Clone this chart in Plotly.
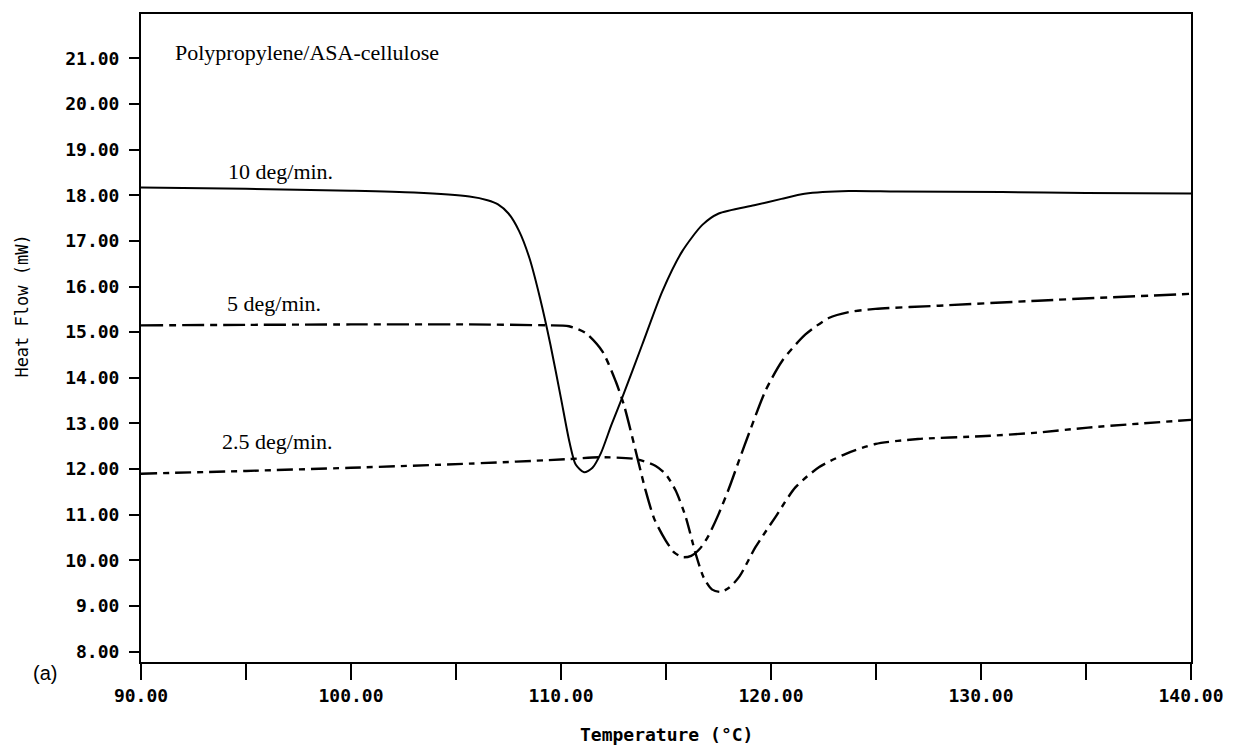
import plotly.graph_objects as go

# ---- data ----
t10 = [90, 95, 100, 103, 105.64, 106.5, 107.0, 107.5, 108.0, 108.5, 109.0, 109.5, 110.0,
       110.4, 110.7, 111.1, 111.5, 111.9, 112.4, 112.92, 113.87, 114.82, 115.77, 116.73,
       117.51, 119.2, 120.5, 121.6, 123.7, 126, 131, 135, 140]
hf10 = [18.17, 18.14, 18.10, 18.06, 17.97, 17.89, 17.8, 17.6, 17.22, 16.62, 15.75, 14.72, 13.55,
        12.6, 12.1, 11.93, 12.03, 12.35, 12.97, 13.57, 14.73, 15.89, 16.77, 17.35,
        17.60, 17.78, 17.92, 18.03, 18.09, 18.08, 18.07, 18.05, 18.04]

t5 = [90, 95, 100, 105.64, 109.28, 110.38, 111.18, 111.97, 112.6, 113.0, 113.4, 114.03, 114.45,
      114.98, 115.4, 115.8, 116.2, 116.6, 117.0, 117.51, 118.0, 118.47, 118.94, 119.73, 120.53,
      121.64, 122.75, 123.7, 124.97, 128, 132.7, 136, 140]
hf5 = [15.15, 15.16, 15.17, 15.17, 15.15, 15.13, 14.98, 14.58, 13.93, 13.4, 12.69, 11.53, 10.9,
       10.44, 10.17, 10.07, 10.1, 10.25, 10.52, 11.02, 11.58, 12.18, 12.77, 13.71, 14.37,
       14.95, 15.31, 15.44, 15.51, 15.58, 15.69, 15.76, 15.84]

t25 = [90, 95, 100, 105.64, 110.38, 111.81, 113.56, 114.51, 115.0, 115.46, 115.94, 116.41, 116.8,
       117.2, 117.6, 118.0, 118.5, 119.26, 120.21, 121.16, 122.28, 123.54, 124.97, 127, 130,
       132.7, 135.1, 140]
hf25 = [11.9, 11.96, 12.03, 12.12, 12.22, 12.26, 12.22, 12.07, 11.88, 11.53, 10.95, 10.15, 9.62,
        9.36, 9.31, 9.4, 9.65, 10.29, 10.95, 11.6, 12.04, 12.33, 12.55, 12.66, 12.72,
        12.80, 12.91, 13.08]

labels = ["10 deg/min.", "5 deg/min.", "2.5 deg/min."]
label_x = [94.04, 93.99, 93.75]
label_y = [18.51, 15.63, 12.6]

fig = go.Figure()
fig.add_trace(go.Scatter(x=t10, y=hf10, mode="lines",
                         line=dict(color="black", width=2, shape="spline", smoothing=0.7)))
fig.add_trace(go.Scatter(x=t5, y=hf5, mode="lines",
                         line=dict(color="black", width=2.4, shape="spline", smoothing=0.7,
                                   dash="22px,6px,7px,6px")))
fig.add_trace(go.Scatter(x=t25, y=hf25, mode="lines",
                         line=dict(color="black", width=2.4, shape="spline", smoothing=0.7,
                                   dash="16px,6px,6px,6px")))

serif = "Liberation Serif, Times New Roman, serif"
mono = "DejaVu Sans Mono, Liberation Mono, monospace"

fig.add_annotation(x=91.52, y=21.13, text="Polypropylene/ASA-cellulose", showarrow=False,
                   xanchor="left", yanchor="middle", font=dict(family=serif, size=22, color="black"))
for t, lx, ly in zip(labels, label_x, label_y):
    fig.add_annotation(x=lx, y=ly, text=t, showarrow=False, xanchor="left", yanchor="middle",
                       font=dict(family=serif, size=22, color="black"))

fig.add_annotation(xref="paper", yref="paper", x=-0.091, y=-0.017, text="(a)", showarrow=False,
                   xanchor="center", yanchor="middle",
                   font=dict(family="Liberation Sans, Arial, sans-serif", size=20, color="black"))
fig.add_annotation(xref="paper", yref="paper", x=-0.113, y=0.549, text="Heat Flow (mW)",
                   showarrow=False, textangle=-90, xanchor="center", yanchor="middle",
                   font=dict(family=mono, size=17, color="black"))
fig.add_annotation(xref="paper", yref="paper", x=0.5, y=-0.112, text="<b>Temperature (°C)</b>",
                   showarrow=False, xanchor="center", yanchor="middle",
                   font=dict(family=mono, size=18, color="black"))

fig.update_layout(
    width=1236, height=752,
    margin=dict(l=141, r=40, t=12, b=90),
    paper_bgcolor="white", plot_bgcolor="white",
    showlegend=False,
)
fig.update_xaxes(range=[90, 140], dtick=10, tick0=90, tickformat=".2f",
                 ticks="outside", ticklen=16, tickwidth=2, tickcolor="black",
                 minor=dict(dtick=5, tick0=90, ticks="outside", ticklen=16, tickwidth=2, tickcolor="black"),
                 showgrid=False, zeroline=False, showline=True, linecolor="black", linewidth=2,
                 mirror=True, tickfont=dict(family=mono, size=18, color="black", weight="bold"))
fig.update_yaxes(range=[7.775, 21.97], dtick=1, tick0=8, tickformat=".2f",
                 ticks="outside", ticklen=10, tickwidth=2, tickcolor="black", ticklabelstandoff=6,
                 showgrid=False, zeroline=False, showline=True, linecolor="black", linewidth=2,
                 mirror=True, tickfont=dict(family=mono, size=18, color="black", weight="bold"))

fig.write_html("out.html")
